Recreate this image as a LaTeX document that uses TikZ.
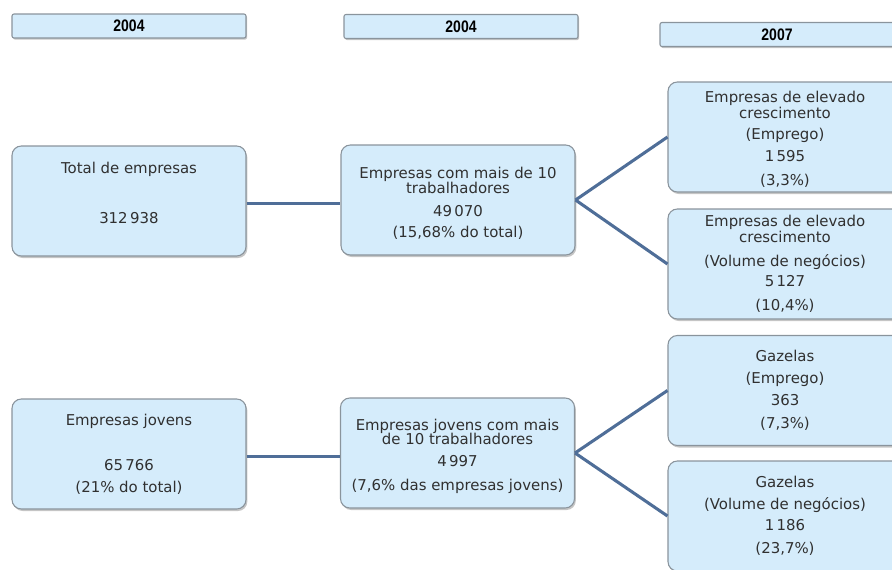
\documentclass[tikz,border=0pt]{standalone}
\usepackage{fontspec}
\setmainfont{DejaVu Sans}
\newfontfamily\hdrfont[FakeStretch=0.84]{Liberation Sans}
\usetikzlibrary{shadows}
\definecolor{boxfill}{HTML}{D5ECFB}
\definecolor{boxline}{HTML}{8A949C}
\definecolor{linkcol}{HTML}{4F6E98}
\definecolor{txt}{HTML}{303030}
\tikzset{
  px/.style={x=0.75pt,y=-0.75pt},
  hdr/.style={draw=boxline,fill=boxfill,line width=0.8pt,rounded corners=1.5pt,
    minimum width=175.5pt,minimum height=18pt,inner sep=0pt,text=black,
    font=\hdrfont\bfseries\fontsize{12.5}{13}\selectfont,
    drop shadow={shadow xshift=0.8pt,shadow yshift=-1.2pt,fill=black!45}},
  box/.style={draw=boxline,fill=boxfill,line width=0.8pt,rounded corners=7pt,
    minimum width=175.5pt,minimum height=82.5pt,inner sep=0pt,align=center,text=txt,
    font=\fontsize{11.2}{12.75}\selectfont,
    drop shadow={shadow xshift=1pt,shadow yshift=-1.5pt,fill=black!45}},
  link/.style={draw=linkcol,line width=2.3pt}
}
\begin{document}
\begin{tikzpicture}[px]
\useasboundingbox (0,0) rectangle (892,569);
\clip (0,0) rectangle (892,569);
\node[hdr] (h1) at (129,26) {2004};
\node[hdr] (h2) at (461,26.5) {2004};
\node[hdr] (h3) at (777,34.5) {2007};

\node[box] (a1) at (129,201) {Total de empresas\\[24.75pt]312\,938\\[-0.75pt]\mbox{}};
\node[box] (a2) at (458,200) {\rule{0pt}{13pt}Empresas com mais de 10\\[-1.5pt]trabalhadores\\[4.5pt]49\,070\\[3pt](15,68\% do total)};
\node[box] (a3) at (785,137) {\rule{0pt}{11.5pt}Empresas de elevado\\[-0.5pt]crescimento\\[3pt](Emprego)\\[3.75pt]1\,595\\[5.25pt](3,3\%)};
\node[box] (a4) at (785,264) {Empresas de elevado\\[-0.75pt]crescimento\\[5.25pt](Volume de negócios)\\[2.25pt]5\,127\\[5.25pt](10,4\%)};

\node[box] (b1) at (129,454) {Empresas jovens\\[21pt]65\,766\\[3.75pt](21\% do total)};
\node[box] (b2) at (457.5,453) {\rule{0pt}{13pt}Empresas jovens com mais\\[-2.25pt]de 10 trabalhadores\\[3.75pt]4\,997\\[5.25pt](7,6\% das empresas jovens)};
\node[box] (b3) at (785,390.5) {Gazelas\\[3.75pt](Emprego)\\[3.75pt]363\\[4.5pt](7,3\%)};
\node[box] (b4) at (785,516) {Gazelas\\[3.75pt](Volume de negócios)\\[3pt]1\,186\\[4.5pt](23,7\%)};

\draw[link] ([yshift=-2pt]a1.east) -- ([yshift=-2pt]a1.east -| a2.west);
\draw[link] (a2.east) -- (a3.west);
\draw[link] (a2.east) -- (a4.west);
\draw[link] ([yshift=-2pt]b1.east) -- ([yshift=-2pt]b1.east -| b2.west);
\draw[link] (b2.east) -- (b3.west);
\draw[link] (b2.east) -- (b4.west);
\end{tikzpicture}
\end{document}
